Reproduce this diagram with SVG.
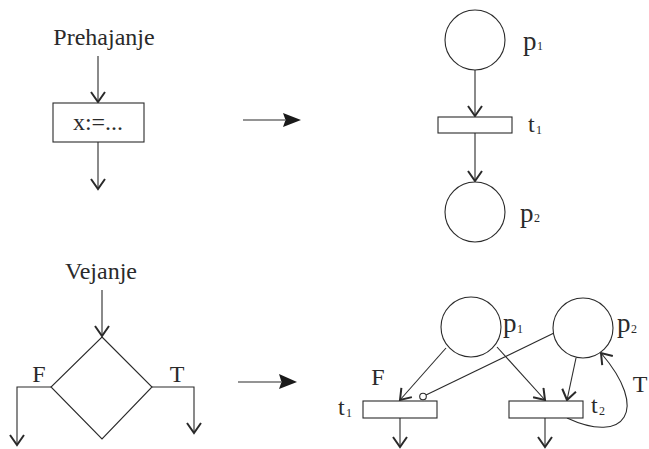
<svg xmlns="http://www.w3.org/2000/svg" width="649" height="449" viewBox="0 0 649 449">
<style>
.s{fill:none;stroke:#2a2a2a;stroke-width:1.1}
.n{fill:#fff;stroke:#2a2a2a;stroke-width:1.1}
.t{font-family:"Liberation Serif",serif;font-size:24px;fill:#2a2a2a}
.p{font-family:"Liberation Serif",serif;font-size:27px;fill:#2a2a2a}
.sub{font-family:"Liberation Serif",serif;font-size:12px;fill:#2a2a2a}
.a{marker-end:url(#v)}
.big{fill:#1a1a1a}
</style>
<defs>
<marker id="v" viewBox="-1 -1 13 16" refX="10" refY="7" markerWidth="13" markerHeight="16" orient="auto" markerUnits="userSpaceOnUse">
<path d="M0,0 L10,7 L0,14" fill="none" stroke="#2a2a2a" stroke-width="2"/>
</marker>
</defs>

<g id="connectors">
<line class="s a" x1="98" y1="56" x2="98" y2="102"/>
<line class="s a" x1="98" y1="142" x2="98" y2="189"/>
<line class="s a" x1="475" y1="70" x2="475" y2="116"/>
<line class="s a" x1="475" y1="133" x2="475" y2="181"/>
<line class="s" x1="243" y1="120" x2="285" y2="120" stroke-width="1.6"/>
<path class="big" d="M301,120 L283,113 L285.5,120 L283,127 Z"/>
<line class="s" x1="238" y1="382" x2="281" y2="382" stroke-width="1.6"/>
<path class="big" d="M297,382 L279,374 L281.5,382 L279,389 Z"/>
<line class="s a" x1="102" y1="290" x2="102" y2="336"/>
<polyline class="s a" points="51,387 17,387 17,445"/>
<polyline class="s a" points="152,387 194,387 194,433"/>
<line class="s a" x1="446" y1="348" x2="400" y2="400"/>
<line class="s a" x1="497" y1="347" x2="545" y2="400"/>
<line class="s a" x1="576" y1="358" x2="567" y2="400"/>
<line class="s" x1="554" y1="333" x2="426" y2="395"/>
<circle cx="423" cy="396.5" r="3.3" class="n"/>
<path class="s a" d="M567,418 C625,445 650,410 601,353"/>
<line class="s a" x1="400" y1="418" x2="400" y2="447"/>
<line class="s a" x1="545" y1="418" x2="545" y2="447"/>
</g>

<g id="label-prehajanje"><text class="t" x="104" y="45" text-anchor="middle">Prehajanje</text></g>
<g id="assign-box">
<rect class="n" x="53" y="103" width="91" height="39"/>
<text class="t" x="98" y="130" text-anchor="middle">x:=...</text>
</g>

<g id="p1-top">
<circle class="n" cx="475" cy="40" r="30"/>
<text class="p" x="523" y="50">p</text><text class="sub" x="537" y="50">1</text>
</g>
<g id="t1-top">
<rect class="n" x="438" y="117" width="74" height="16"/>
<text class="t" x="528" y="132">t</text><text class="sub" x="536" y="134">1</text>
</g>
<g id="p2-top">
<circle class="n" cx="475" cy="212" r="30"/>
<text class="p" x="520" y="222">p</text><text class="sub" x="534" y="222">2</text>
</g>

<g id="label-vejanje"><text class="t" x="101" y="279" text-anchor="middle">Vejanje</text></g>
<g id="decision">
<polygon class="n" points="102,337 152,387 102,439 51,387"/>
</g>
<g id="label-F1"><text class="t" x="39" y="382" text-anchor="middle">F</text></g>
<g id="label-T1"><text class="t" x="177" y="382" text-anchor="middle">T</text></g>

<g id="p1-bottom">
<circle class="n" cx="471" cy="327" r="30"/>
<text class="p" x="503" y="332">p</text><text class="sub" x="517" y="333">1</text>
</g>
<g id="p2-bottom">
<circle class="n" cx="583" cy="328" r="30"/>
<text class="p" x="617" y="332">p</text><text class="sub" x="631" y="333">2</text>
</g>
<g id="t1-bottom">
<rect class="n" x="363" y="401" width="74" height="17"/>
<text class="t" x="338" y="415">t</text><text class="sub" x="346" y="417">1</text>
</g>
<g id="t2-bottom">
<rect class="n" x="509" y="401" width="74" height="17"/>
<text class="t" x="591" y="413">t</text><text class="sub" x="599" y="415">2</text>
</g>
<g id="label-F2"><text class="t" x="378" y="385" text-anchor="middle">F</text></g>
<g id="label-T2"><text class="t" x="640" y="392" text-anchor="middle">T</text></g>
</svg>
